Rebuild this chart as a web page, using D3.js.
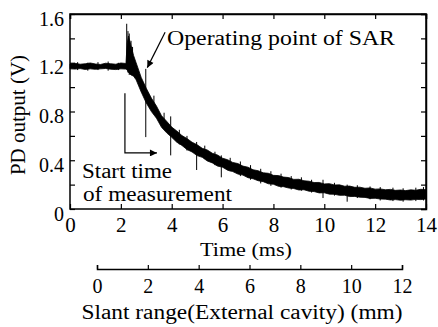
<!DOCTYPE html>
<html>
<head>
<meta charset="utf-8">
<script src="https://cdn.jsdelivr.net/npm/d3@7"></script>
<style>
  body { margin: 0; background: #fff; }
</style>
</head>
<body>
<div id="chart"></div>
<script>
// trace envelope (ms, V)
const timeMs = [0, 0.2, 0.4, 0.6, 0.8, 1.0, 1.2, 1.4, 1.6, 1.8, 2.0, 2.2, 2.25, 2.3, 2.4, 2.5, 2.6, 2.8,
  3.0, 3.2, 3.4, 3.6, 3.8, 4.0, 4.2, 4.4, 4.6, 4.8, 5.0, 5.2, 5.4, 5.6, 5.8, 6.0, 6.2, 6.4, 6.6, 6.8,
  7.0, 7.2, 7.4, 7.6, 7.8, 8.0, 8.2, 8.4, 8.6, 8.8, 9.0, 9.2, 9.4, 9.6, 9.8, 10.0, 10.2, 10.4, 10.6, 10.8,
  11.0, 11.2, 11.4, 11.6, 11.8, 12.0, 12.2, 12.4, 12.6, 12.8, 13.0, 13.2, 13.4, 13.6, 13.8, 14.0];
const upperV = [1.19, 1.195, 1.188, 1.192, 1.198, 1.19, 1.186, 1.196, 1.192, 1.188, 1.198, 1.194, 1.36, 1.42, 1.34, 1.26, 1.2, 1.08,
  0.99, 0.91, 0.845, 0.765, 0.72, 0.672, 0.64, 0.603, 0.578, 0.548, 0.527, 0.498, 0.484, 0.457, 0.443, 0.417, 0.404, 0.382, 0.373, 0.352,
  0.343, 0.322, 0.314, 0.297, 0.293, 0.276, 0.274, 0.262, 0.258, 0.243, 0.244, 0.232, 0.228, 0.217, 0.218, 0.206, 0.208, 0.197, 0.198, 0.187,
  0.188, 0.178, 0.179, 0.17, 0.173, 0.163, 0.165, 0.158, 0.161, 0.153, 0.156, 0.151, 0.157, 0.154, 0.162, 0.158];
const lowerV = [1.15, 1.148, 1.152, 1.145, 1.15, 1.146, 1.15, 1.153, 1.147, 1.144, 1.15, 1.148, 1.14, 1.12, 1.1, 1.09, 1.06, 0.96,
  0.87, 0.8, 0.745, 0.67, 0.625, 0.588, 0.548, 0.522, 0.488, 0.468, 0.438, 0.424, 0.394, 0.378, 0.352, 0.343, 0.318, 0.307, 0.287, 0.278,
  0.257, 0.248, 0.232, 0.224, 0.207, 0.203, 0.186, 0.183, 0.172, 0.168, 0.156, 0.158, 0.146, 0.143, 0.132, 0.133, 0.122, 0.121, 0.112, 0.113,
  0.102, 0.103, 0.097, 0.095, 0.087, 0.088, 0.082, 0.081, 0.074, 0.077, 0.072, 0.076, 0.073, 0.079, 0.077, 0.082];

// glitches sticking out of the band
const spikeT  = [0.3, 0.7, 1.1, 1.5, 1.9, 2.23, 2.28, 2.33, 2.4, 2.46, 2.98, 3.3, 3.7, 3.96, 4.3, 4.6, 4.98, 5.3, 5.7, 5.95,
  6.3, 6.7, 7.1, 7.5, 7.9, 8.3, 8.7, 9.1, 9.5, 9.95, 10.4, 10.9, 11.3, 11.8, 12.2, 12.7, 13.1, 13.6, 13.9];
const spikeHi = [1.205, 1.2, 1.205, 1.21, 1.2, 1.52, 1.46, 1.44, 1.38, 1.33, 1.15, 0.93, 0.79, 0.76, 0.65, 0.6, 0.55, 0.52, 0.47, 0.44,
  0.42, 0.39, 0.36, 0.33, 0.31, 0.29, 0.27, 0.26, 0.24, 0.24, 0.215, 0.2, 0.195, 0.185, 0.18, 0.175, 0.17, 0.175, 0.18];
const spikeLo = [1.14, 1.135, 1.14, 1.135, 1.14, 1.15, 1.12, 1.1, 1.1, 1.12, 0.59, 0.8, 0.68, 0.44, 0.53, 0.48, 0.32, 0.41, 0.36, 0.26,
  0.31, 0.27, 0.24, 0.21, 0.19, 0.175, 0.16, 0.15, 0.135, 0.09, 0.11, 0.06, 0.09, 0.08, 0.07, 0.065, 0.06, 0.065, 0.07];

const xTicks = [0, 2, 4, 6, 8, 10, 12, 14];
const yTicks = [0, 0.2, 0.4, 0.6, 0.8, 1.0, 1.2, 1.4, 1.6];
const slantTicks = [0, 2, 4, 6, 8, 10, 12];

const W = 438, H = 327;
const margin = { left: 70, top: 14, right: 12, bottom: 118 };
const FONT = '"Liberation Serif", serif';

const svg = d3.select('#chart').append('svg')
  .attr('width', W)
  .attr('height', H)
  .attr('font-family', FONT);

const x = d3.scaleLinear().domain([0, 14]).range([margin.left, W - margin.right]);
const y = d3.scaleLinear().domain([0, 1.6]).range([H - margin.bottom, margin.top]);
const xs = d3.scaleLinear().domain([0, 12]).range([97, 402]);   // slant range (mm)

// arrow heads
const defs = svg.append('defs');
defs.append('marker')
  .attr('id', 'head')
  .attr('viewBox', '0 0 10 10')
  .attr('refX', 10).attr('refY', 5)
  .attr('markerWidth', 9).attr('markerHeight', 7)
  .attr('markerUnits', 'userSpaceOnUse')
  .attr('orient', 'auto')
  .append('path')
  .attr('d', 'M0,0 L10,5 L0,10 z')
  .attr('fill', '#000');

// trace
const band = d3.area()
  .x((d, i) => x(timeMs[i]))
  .y0((d, i) => y(lowerV[i]))
  .y1((d, i) => y(upperV[i]));

svg.append('path')
  .datum(timeMs)
  .attr('d', band)
  .attr('fill', '#000')
  .attr('stroke', '#000')
  .attr('stroke-width', 0.8);

svg.append('g').selectAll('line')
  .data(spikeT)
  .enter()
  .append('line')
  .attr('x1', d => x(d)).attr('x2', d => x(d))
  .attr('y1', (d, i) => y(spikeHi[i]))
  .attr('y2', (d, i) => y(spikeLo[i]))
  .attr('stroke', '#000')
  .attr('stroke-width', 1);

// frame
svg.append('rect')
  .attr('x', x(0)).attr('y', y(1.6))
  .attr('width', x(14) - x(0))
  .attr('height', y(0) - y(1.6))
  .attr('fill', 'none')
  .attr('stroke', '#000')
  .attr('stroke-width', 1.5);

// axes, ticks pointing inside
const xAxis = d3.axisBottom(x).tickValues(xTicks).tickSize(-5).tickPadding(8).tickFormat(d3.format('d'));
const gx = svg.append('g').attr('transform', `translate(0,${y(0)})`).call(xAxis);

const yAxis = d3.axisLeft(y).tickValues(yTicks).tickSize(-5).tickPadding(6)
  .tickFormat(d => (Math.round(d * 10) % 4 === 0) ? (d === 0 ? '0' : d.toFixed(1)) : '');
const gy = svg.append('g').attr('transform', `translate(${x(0)},0)`).call(yAxis);

svg.append('g').attr('transform', `translate(0,${y(1.6)})`)
  .call(d3.axisTop(x).tickValues(xTicks).tickSize(-5).tickFormat(''));
svg.append('g').attr('transform', `translate(${x(14)},0)`)
  .call(d3.axisRight(y).tickValues(yTicks).tickSize(-5).tickFormat(''));

const gs = svg.append('g').attr('transform', 'translate(0,269)')
  .call(d3.axisBottom(xs).tickValues(slantTicks).tickSize(-4).tickSizeOuter(-4).tickPadding(10).tickFormat(d3.format('d')));

svg.selectAll('.domain').attr('stroke', '#000').attr('stroke-width', 1.5);
gx.select('.domain').remove();
gy.select('.domain').remove();
svg.selectAll('.tick line').attr('stroke', '#000').attr('stroke-width', 1.2);

svg.selectAll('g').attr('font-family', FONT);
gx.selectAll('text').attr('font-size', 21).attr('fill', '#000');
gy.selectAll('text').attr('font-size', 20).attr('fill', '#000').attr('dy', '0.55em');
gs.selectAll('text').attr('font-size', 20).attr('fill', '#000');

// titles
svg.append('text')
  .attr('x', 246).attr('y', 256)
  .attr('text-anchor', 'middle')
  .attr('textLength', 92).attr('lengthAdjust', 'spacingAndGlyphs')
  .attr('font-size', 19)
  .text('Time (ms)');

svg.append('text')
  .attr('x', 242).attr('y', 319)
  .attr('text-anchor', 'middle')
  .attr('textLength', 321).attr('lengthAdjust', 'spacingAndGlyphs')
  .attr('font-size', 20)
  .text('Slant range(External cavity) (mm)');

svg.append('text')
  .attr('transform', 'translate(25,115) rotate(-90)')
  .attr('text-anchor', 'middle')
  .attr('font-size', 21)
  .text('PD output (V)');

// annotations
svg.append('text')
  .attr('x', 167).attr('y', 45)
  .attr('textLength', 228).attr('lengthAdjust', 'spacingAndGlyphs')
  .attr('font-size', 20)
  .text('Operating point of SAR');

svg.append('line')
  .attr('x1', x(3.74)).attr('y1', y(1.45))
  .attr('x2', x(3.04)).attr('y2', y(1.16))
  .attr('stroke', '#000').attr('stroke-width', 1.2)
  .attr('marker-end', 'url(#head)');

svg.append('path')
  .attr('d', `M${x(2.16)},${y(0.95)} L${x(2.16)},${y(0.46)} L${x(3.42)},${y(0.46)}`)
  .attr('fill', 'none')
  .attr('stroke', '#000').attr('stroke-width', 1.2)
  .attr('marker-end', 'url(#head)');

svg.append('text')
  .attr('x', 82).attr('y', 178)
  .attr('textLength', 90).attr('lengthAdjust', 'spacingAndGlyphs')
  .attr('font-size', 20)
  .text('Start time');

svg.append('text')
  .attr('x', 83).attr('y', 201)
  .attr('textLength', 149).attr('lengthAdjust', 'spacingAndGlyphs')
  .attr('font-size', 20)
  .text('of measurement');
</script>
</body>
</html>
